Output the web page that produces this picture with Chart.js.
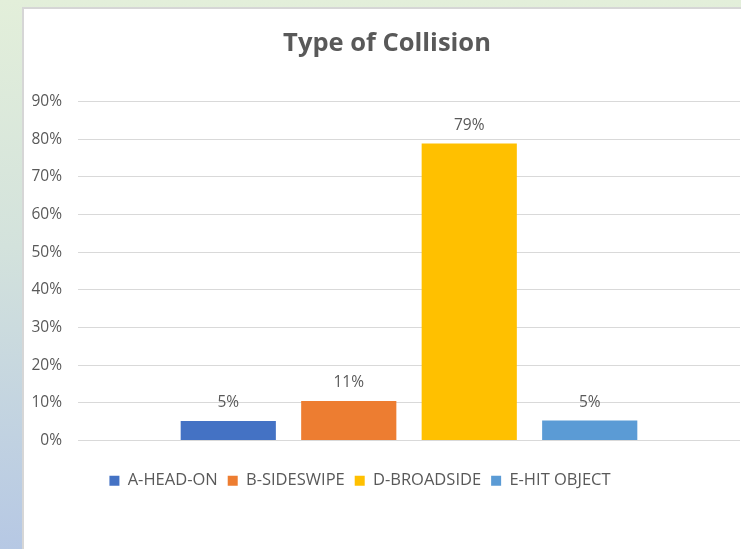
<!DOCTYPE html>
<html>
<head>
<meta charset="utf-8">
<script src="https://cdn.jsdelivr.net/npm/chart.js@4.4.1/dist/chart.umd.min.js"></script>
<style>
  html, body { margin: 0; padding: 0; width: 741px; height: 549px; overflow: hidden; }
  body { background: linear-gradient(to bottom, #e3efda 0%, #d3e2dc 45%, #b6c8e4 100%); position: relative; }
  #box { position: absolute; left: 22px; top: 7px; width: 740px; height: 560px; background: #fff; border-left: 2px solid #d6d6d6; border-top: 2px solid #d6d6d6; }
  #wrap { position: absolute; left: 0; top: 0; width: 726px; height: 540px; }
</style>
</head>
<body>
<div id="box"><div id="wrap"><canvas id="c"></canvas></div></div>
<script>
const categories = [''];
const seriesNames = ['A-HEAD-ON', 'B-SIDESWIPE', 'D-BROADSIDE', 'E-HIT OBJECT'];
const seriesValues = [5.2, 10.5, 78.9, 5.3];
const seriesColors = ['#4472C4', '#ED7D31', '#FFC000', '#5B9BD5'];
const yTicks = [0, 10, 20, 30, 40, 50, 60, 70, 80, 90];

const FONT = "'Open Sans', sans-serif";
const GREY = '#595959';

const labelPlugin = {
  id: 'barLabels',
  afterDatasetsDraw(chart) {
    const ctx = chart.ctx;
    ctx.save();
    ctx.font = "15.5px " + FONT;
    ctx.fillStyle = GREY;
    ctx.textAlign = 'center';
    ctx.textBaseline = 'middle';
    chart.data.datasets.forEach((ds, i) => {
      const meta = chart.getDatasetMeta(i);
      meta.data.forEach((bar, j) => {
        ctx.fillText(Math.round(ds.data[j]) + '%', bar.x, bar.y - 18);
      });
    });
    ctx.restore();
  }
};

const boxShift = {
  id: 'boxShift',
  afterLayout(chart) {
    const lg = chart.legend;
    if (lg) { lg.left -= 22; lg.right -= 22; }
    const tb = chart.titleBlock;
    if (tb) { tb.left += 5; tb.right += 5; }
  }
};

new Chart(document.getElementById('c'), {
  type: 'bar',
  data: {
    labels: categories,
    datasets: seriesNames.map((n, i) => ({
      label: n,
      data: [seriesValues[i]],
      backgroundColor: seriesColors[i],
      borderWidth: 0,
      categoryPercentage: 0.728,
      barPercentage: 0.79
    }))
  },
  options: {
    responsive: true,
    maintainAspectRatio: false,
    animation: false,
    layout: { padding: { left: 0, right: 10, top: 0, bottom: 50 } },
    plugins: {
      title: {
        display: true,
        text: 'Type of Collision',
        color: GREY,
        font: { family: FONT, size: 25.5, weight: 'bold' },
        padding: { top: 19, bottom: 43 }
      },
      legend: {
        position: 'bottom',
        labels: {
          color: GREY,
          font: { family: FONT, size: 16.5 },
          boxWidth: 10,
          boxHeight: 10,
          padding: 10
        }
      },
      tooltip: { enabled: false }
    },
    scales: {
      x: {
        grid: { display: false },
        border: { display: false },
        ticks: { display: false },
        afterFit: (s) => { s.height = 22; }
      },
      y: {
        min: 0,
        max: 90,
        afterBuildTicks: (s) => { s.ticks = yTicks.map(v => ({ value: v })); },
        afterFit: (s) => { s.width = 54; },
        grid: { color: '#d9d9d9', lineWidth: 1, drawTicks: false },
        border: { display: false },
        ticks: {
          color: GREY,
          font: { family: FONT, size: 15.5 },
          padding: 16,
          callback: (v) => v + '%'
        }
      }
    }
  },
  plugins: [labelPlugin, boxShift]
});
</script>
</body>
</html>
